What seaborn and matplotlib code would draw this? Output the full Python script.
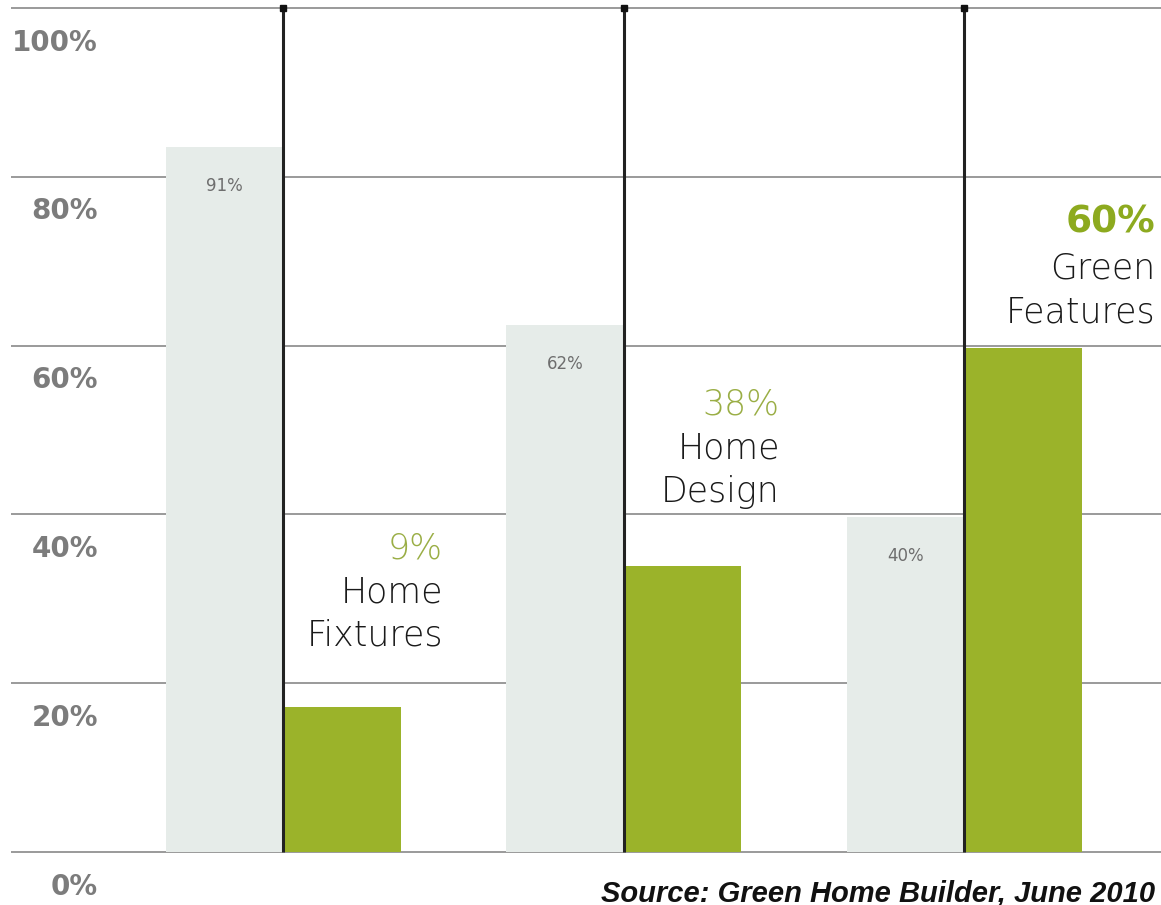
import matplotlib
matplotlib.use("Agg")
import matplotlib.pyplot as plt
import seaborn as sns
import pandas as pd
import numpy as np

# ---- data ----
categories = ["Home Fixtures", "Home Design", "Green Features"]
cat_lines = [["Home", "Fixtures"], ["Home", "Design"], ["Green", "Features"]]
other_heights = [83.5, 62.4, 39.7]      # light grey bars (drawn heights)
green_heights = [17.2, 33.9, 59.7]      # green bars (drawn heights)
other_labels = ["91%", "62%", "40%"]
green_labels = ["9%", "38%", "60%"]
yticks = [0, 20, 40, 60, 80, 100]
ytick_labels = ["0%", "20%", "40%", "60%", "80%", "100%"]
source_text = "Source: Green Home Builder, June 2010"

GREY = "#e6ece9"
GREEN = "#9bb32a"
GREEN_TXT = "#9aae45"
GREEN_BOLD = "#8daa1f"

df = pd.DataFrame({
    "category": categories * 2,
    "series": ["Other"] * 3 + ["Green"] * 3,
    "value": other_heights + green_heights,
})

sns.set_theme(style="white")
plt.rcParams["font.family"] = ["DejaVu Sans"]

fig = plt.figure(figsize=(11.61, 9.05), dpi=100)
ax = fig.add_axes([0, 0, 1, 1])

# gridlines behind bars
ax.hlines(yticks, -0.80, 2.6, color="#9a9a9a", lw=1.4, zorder=0)

sns.barplot(data=df, x="category", y="value", hue="series",
            hue_order=["Other", "Green"], palette=[GREY, GREEN],
            width=0.69, saturation=1, dodge=True, legend=False,
            order=categories, ax=ax, zorder=2, edgecolor="none")

xs = np.arange(len(categories))
ax.vlines(xs, 0, 100, color="#222222", lw=2.2, zorder=4)
ax.plot(xs, [100] * len(xs), "s", ms=4.5, color="#111111", zorder=5)

ax.set_xlim(-0.8316, 2.578)
ax.set_ylim(-6.28, 100.95)
ax.axis("off")

# y tick labels (placed below their gridlines, as in the reference)
for t, lab in zip(yticks, ytick_labels):
    ax.text(98 / 1161, t - 4.1, lab, transform=ax.get_yaxis_transform(),
            ha="right", va="center", fontsize=20, fontweight="bold",
            color="#7c7c7c")

# value labels inside grey bars
bw = 0.69 / 2
for i, (h, lab) in enumerate(zip(other_heights, other_labels)):
    ax.text(i - bw / 2, h - 4.6, lab, ha="center", va="center",
            fontsize=12, color="#6e6e6e")

# annotation labels next to green bars
ann_x = [0.470, 0.459, 0.562]
ann_y = [36.0, 53.0, 74.6]
step = 5.2
for i, (lab, lines) in enumerate(zip(green_labels, cat_lines)):
    bold = (i == 2)
    ax.text(i + ann_x[i], ann_y[i], lab, ha="right", va="center",
            fontsize=27 if bold else 25,
            fontweight="bold" if bold else "light",
            color=GREEN_BOLD if bold else GREEN_TXT)
    for k, ln in enumerate(lines):
        ax.text(i + ann_x[i], ann_y[i] - step * (k + 1) - (0.3 if bold else 0), ln,
                ha="right", va="center", fontsize=25, fontweight="light",
                color="#1a1a1a")

fig.text(1155 / 1161, 1 - 893 / 905, source_text, ha="right", va="center",
         fontsize=21, fontweight="bold", fontstyle="italic",
         family=["Liberation Sans Narrow", "Liberation Sans", "DejaVu Sans"],
         color="#111111")

fig.savefig("out.png", dpi=100, facecolor="white")
